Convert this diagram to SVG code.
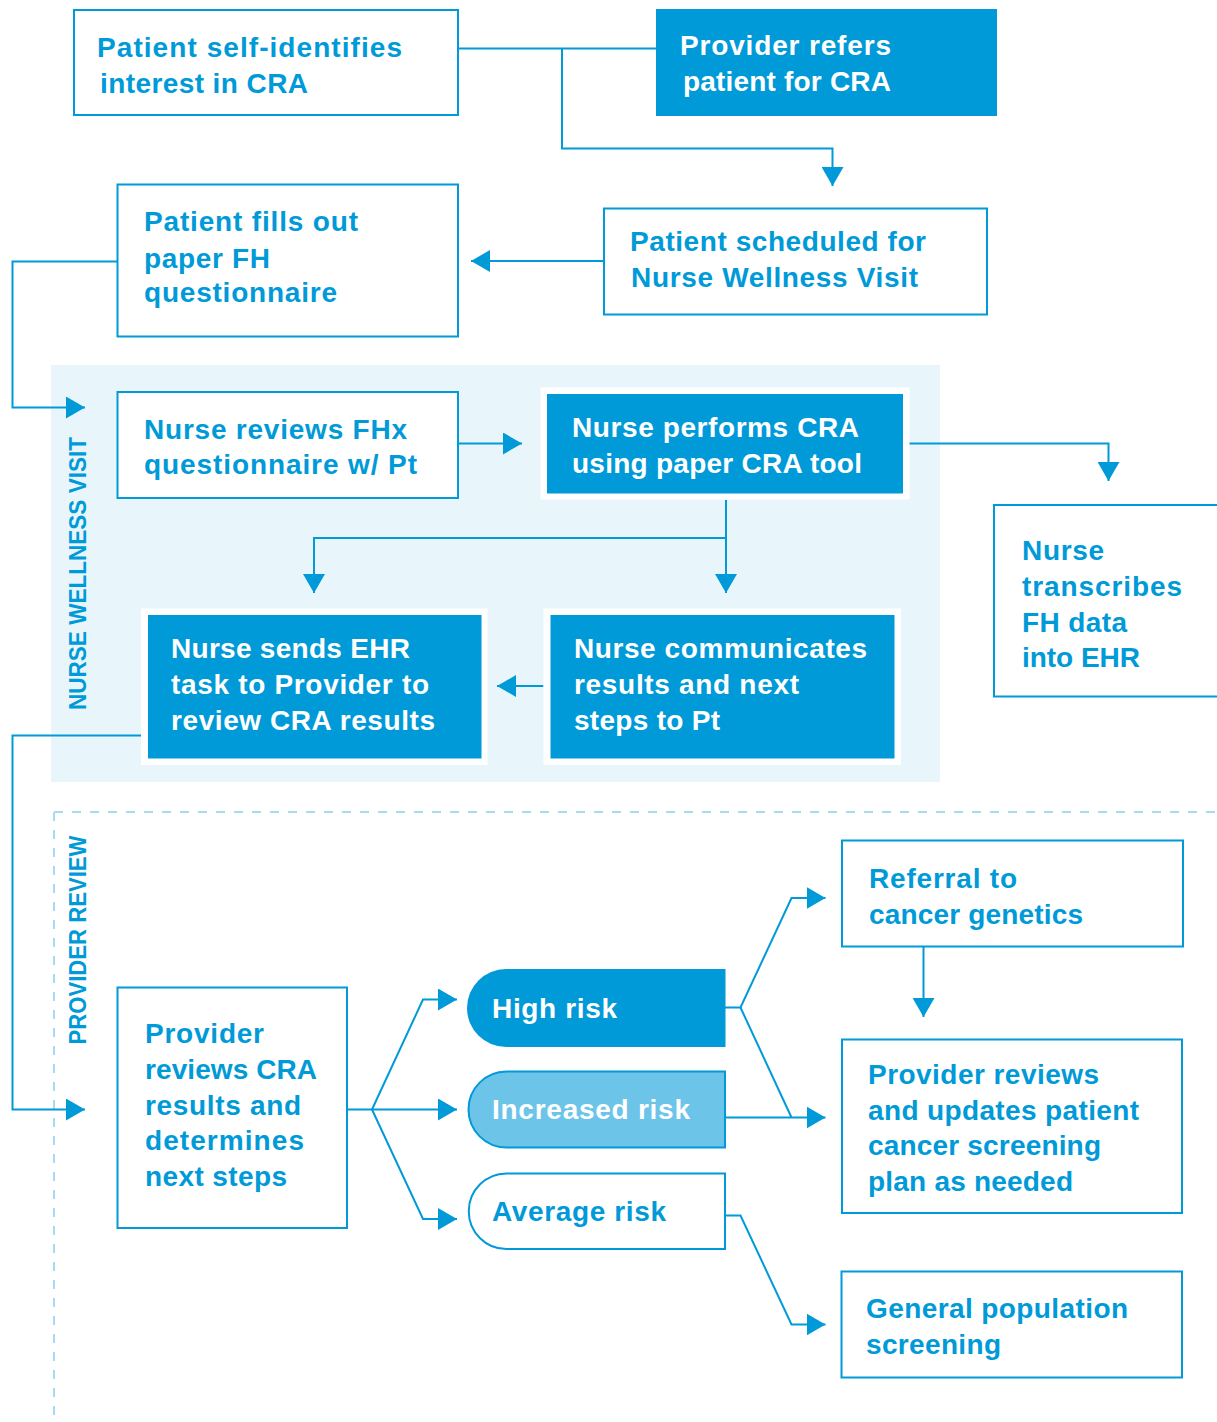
<svg xmlns="http://www.w3.org/2000/svg" width="1217" height="1422" viewBox="0 0 1217 1422">
<style>
.box{fill:#fff;stroke:#009ad8;stroke-width:2}
.fill{fill:#009ad8}
.halo{fill:#fff}
.t{font-family:"Liberation Sans",Arial,sans-serif;font-weight:bold;font-size:28px;fill:#009ad8}
.w{fill:#fff}
.lab{font-family:"Liberation Sans",Arial,sans-serif;font-weight:bold;font-size:23px;fill:#009ad8}
.conn{fill:none;stroke:#009ad8;stroke-width:2}
.dash{fill:none;stroke:#a6dcf3;stroke-width:2;stroke-dasharray:9 9}
</style>
<defs>
<marker id="ah" markerUnits="userSpaceOnUse" markerWidth="20" markerHeight="22" refX="19" refY="11" orient="auto" viewBox="0 0 20 22">
<path d="M0,0 L19,11 L0,22 Z" fill="#009ad8"/>
</marker>
</defs>

<g id="lanes">
<rect x="51" y="365" width="889" height="417" fill="#e8f6fc"/>
<path class="dash" d="M54,812 H1217 M54,812 V1422"/>
<text class="lab" transform="translate(85.5,573.5) rotate(-90)" text-anchor="middle" textLength="273" lengthAdjust="spacingAndGlyphs">NURSE WELLNESS VISIT</text>
<text class="lab" transform="translate(85.5,940) rotate(-90)" text-anchor="middle" textLength="209" lengthAdjust="spacingAndGlyphs">PROVIDER REVIEW</text>
</g>

<g id="connectors">
<path class="conn" d="M458,48.5 H656"/>
<path class="conn" d="M562,48.5 V148.5 H832.5 V186" marker-end="url(#ah)"/>
<path class="conn" d="M604,261 H471" marker-end="url(#ah)"/>
<path class="conn" d="M117,261.5 H12.5 V407.5 H85" marker-end="url(#ah)"/>
<path class="conn" d="M458,443.5 H522" marker-end="url(#ah)"/>
<path class="conn" d="M909,443.5 H1108.5 V481" marker-end="url(#ah)"/>
<path class="conn" d="M726,500 V593" marker-end="url(#ah)"/>
<path class="conn" d="M726,538 H314 V593" marker-end="url(#ah)"/>
<path class="conn" d="M543.5,686 H497" marker-end="url(#ah)"/>
<path class="conn" d="M141,735.5 H12.5 V1109.5 H85" marker-end="url(#ah)"/>
<path class="conn" d="M347,1109.5 H457" marker-end="url(#ah)"/>
<path class="conn" d="M372,1109.5 L423,999.5 H457" marker-end="url(#ah)"/>
<path class="conn" d="M372,1109.5 L423,1219 H457" marker-end="url(#ah)"/>
<path class="conn" d="M725,1007.5 H740.5 L791.5,898 H825.5" marker-end="url(#ah)"/>
<path class="conn" d="M740.5,1007.5 L791.5,1117.5"/>
<path class="conn" d="M725,1117.5 H825.5" marker-end="url(#ah)"/>
<path class="conn" d="M725,1215.5 H740.5 L791.5,1324.5 H825.5" marker-end="url(#ah)"/>
<path class="conn" d="M923.5,947 V1017" marker-end="url(#ah)"/>
</g>

<g id="n1">
<rect class="box" x="74" y="10" width="384" height="105"/>
<text class="t" x="97" y="57" textLength="305">Patient self-identifies</text>
<text class="t" x="100" y="93" textLength="208">interest in CRA</text>
</g>
<g id="n2">
<rect class="fill" x="656" y="9" width="341" height="107"/>
<text class="t w" x="680" y="55" textLength="211">Provider refers</text>
<text class="t w" x="683" y="91" textLength="208">patient for CRA</text>
</g>
<g id="n3">
<rect class="box" x="604" y="208.5" width="383" height="106"/>
<text class="t" x="630" y="251" textLength="296">Patient scheduled for</text>
<text class="t" x="631" y="287" textLength="287">Nurse Wellness Visit</text>
</g>
<g id="n4">
<rect class="box" x="117.5" y="184.5" width="340.5" height="152"/>
<text class="t" x="144" y="231" textLength="214">Patient fills out</text>
<text class="t" x="144" y="268" textLength="126">paper FH</text>
<text class="t" x="144" y="302" textLength="193">questionnaire</text>
</g>
<g id="n5">
<rect class="box" x="117.5" y="392" width="340.5" height="106"/>
<text class="t" x="144" y="439" textLength="263">Nurse reviews FHx</text>
<text class="t" x="144" y="474" textLength="273">questionnaire w/ Pt</text>
</g>
<g id="n6">
<rect class="halo" x="540.5" y="387.5" width="369" height="112"/>
<rect class="fill" x="547" y="394" width="356" height="99.5"/>
<text class="t w" x="572" y="437" textLength="287">Nurse performs CRA</text>
<text class="t w" x="572" y="473" textLength="290">using paper CRA tool</text>
</g>
<g id="n7">
<rect class="box" x="994" y="505" width="240" height="191.5"/>
<text class="t" x="1022" y="560" textLength="82">Nurse</text>
<text class="t" x="1022" y="596" textLength="160">transcribes</text>
<text class="t" x="1022" y="632" textLength="105">FH data</text>
<text class="t" x="1022" y="667" textLength="118">into EHR</text>
</g>
<g id="n8">
<rect class="halo" x="141" y="608.5" width="346.5" height="156.5"/>
<rect class="fill" x="148" y="615" width="333.5" height="143.5"/>
<text class="t w" x="171" y="658" textLength="239">Nurse sends EHR</text>
<text class="t w" x="171" y="694" textLength="258">task to Provider to</text>
<text class="t w" x="171" y="730" textLength="264">review CRA results</text>
</g>
<g id="n9">
<rect class="halo" x="543.5" y="608.5" width="357.5" height="156.5"/>
<rect class="fill" x="550.5" y="615" width="344" height="143.5"/>
<text class="t w" x="574" y="658" textLength="293">Nurse communicates</text>
<text class="t w" x="574" y="694" textLength="225">results and next</text>
<text class="t w" x="574" y="730" textLength="146">steps to Pt</text>
</g>
<g id="n10">
<rect class="box" x="117.5" y="987.5" width="229.5" height="240.5"/>
<text class="t" x="145" y="1043" textLength="119">Provider</text>
<text class="t" x="145" y="1079" textLength="172">reviews CRA</text>
<text class="t" x="145" y="1115" textLength="156">results and</text>
<text class="t" x="145" y="1150" textLength="159">determines</text>
<text class="t" x="145" y="1186" textLength="142">next steps</text>
</g>
<g id="n11">
<path d="M506,969 H725.5 V1047 H506 A39,39 0 0 1 506,969 Z" fill="#009ad8"/>
<text class="t w" x="492" y="1018" textLength="125">High risk</text>
</g>
<g id="n12">
<path d="M506.5,1071.5 H725 V1147.5 H506.5 A38,38 0 0 1 506.5,1071.5 Z" fill="#6cc4e9" stroke="#009ad8" stroke-width="2"/>
<text class="t w" x="492" y="1119" textLength="198">Increased risk</text>
</g>
<g id="n13">
<path d="M506.5,1173.5 H725 V1249 H506.5 A37.75,37.75 0 0 1 506.5,1173.5 Z" fill="#fff" stroke="#009ad8" stroke-width="2"/>
<text class="t" x="492" y="1221" textLength="174">Average risk</text>
</g>
<g id="n14">
<rect class="box" x="842" y="840.5" width="341" height="106"/>
<text class="t" x="869" y="888" textLength="148">Referral to</text>
<text class="t" x="869" y="924" textLength="214">cancer genetics</text>
</g>
<g id="n15">
<rect class="box" x="842" y="1039.5" width="340" height="173.5"/>
<text class="t" x="868" y="1084" textLength="231">Provider reviews</text>
<text class="t" x="868" y="1120" textLength="271">and updates patient</text>
<text class="t" x="868" y="1155" textLength="233">cancer screening</text>
<text class="t" x="868" y="1191" textLength="205">plan as needed</text>
</g>
<g id="n16">
<rect class="box" x="841.5" y="1271.5" width="340.5" height="106"/>
<text class="t" x="866" y="1318" textLength="262">General population</text>
<text class="t" x="866" y="1354" textLength="135">screening</text>
</g>
</svg>
